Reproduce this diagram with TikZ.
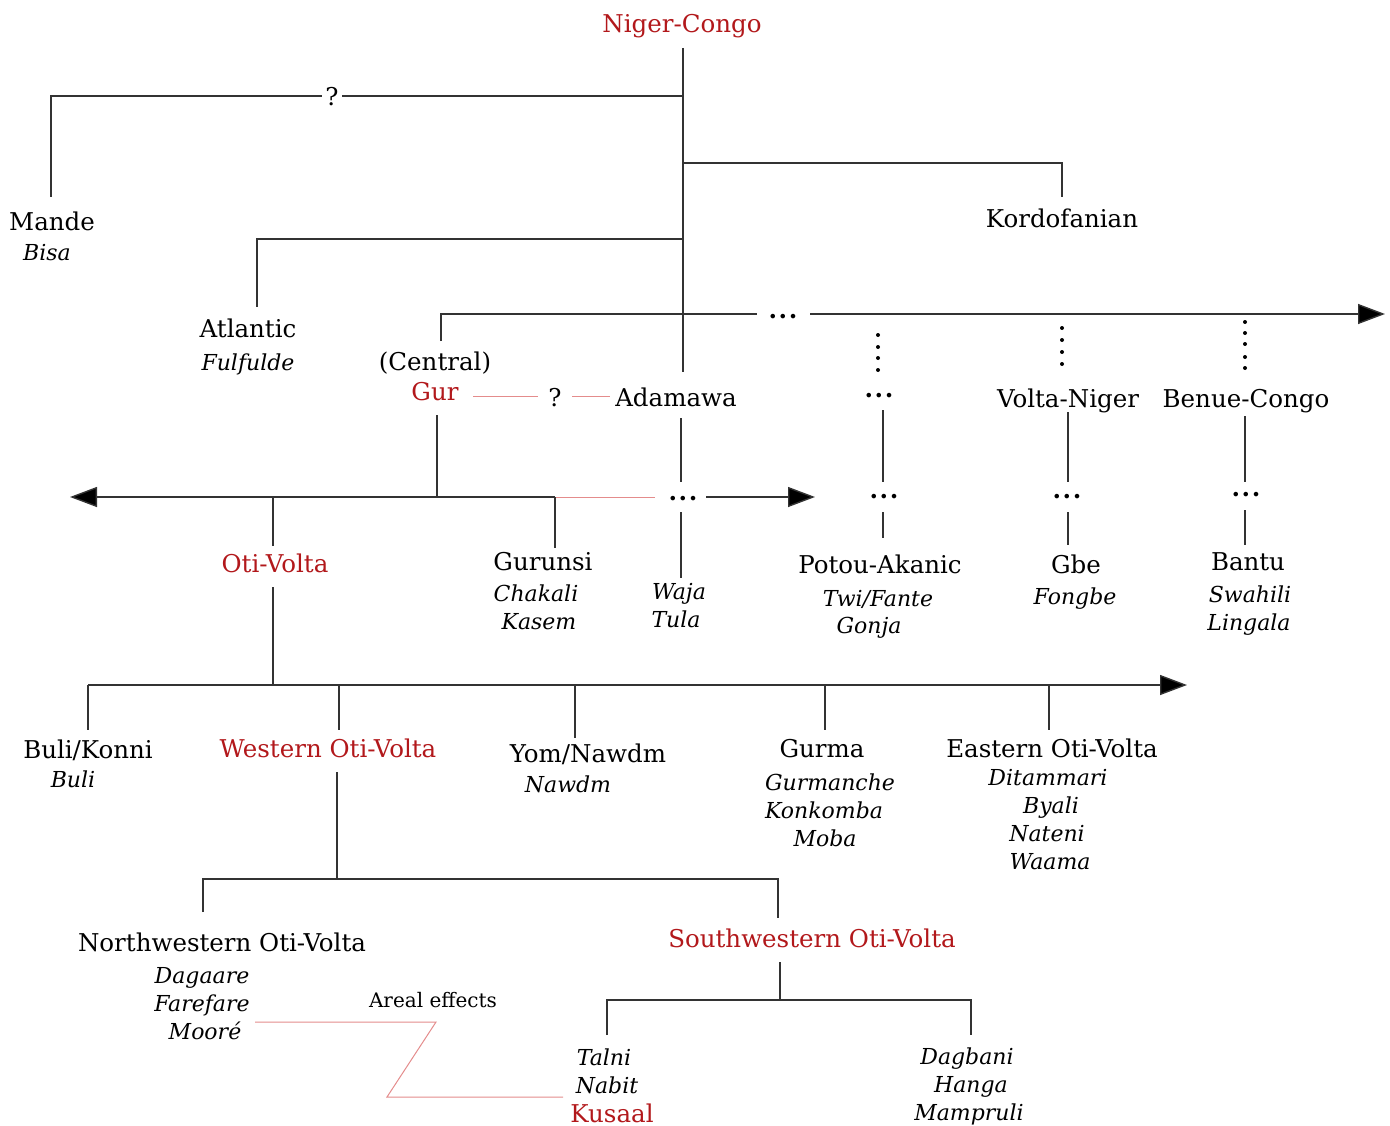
\documentclass[tikz,border=0pt]{standalone}
\usepackage{fontspec}
\setmainfont{DejaVu Serif}
\usetikzlibrary{arrows.meta}
\definecolor{gr}{RGB}{178,24,27}
\definecolor{pk}{RGB}{228,140,140}
\newcommand\mydots{{\bfseries .\kern1.7pt.\kern1.7pt.}}
\begin{document}
\begin{tikzpicture}[x=1pt,y=-1pt,
 lab/.style={font=\fontsize{24.5}{28}\selectfont, inner sep=0pt, anchor=base},
 sub/.style={font=\fontsize{22}{26}\selectfont\itshape, inner sep=0pt, anchor=base},
 sml/.style={font=\fontsize{20}{24}\selectfont, inner sep=0pt, anchor=base},
 ln/.style={line width=1.4pt, draw=black!80},
 arr/.style={ln, -{Triangle[length=27pt,width=20pt,fill=black]}},
 pl/.style={line width=1pt, draw=pk},
 vdot/.style={fill=black, draw=none}]
\useasboundingbox (0,0) rectangle (1390,1126);

% ---------- nodes ----------
\node[lab,text=gr] (NC) at (682,33) {Niger-Congo};
\node[lab] (q1) at (332,106) {?};
\node[lab] (Mande) at (52,231) {Mande};
\node[sub] (Bisa) at (47,261) {Bisa};
\node[lab] (Kord) at (1062,228) {Kordofanian};
\node[lab] (Atl) at (248,337) {Atlantic};
\node[sub] (Fulf) at (248,370) {Fulfulde};
\node[lab] (dd1) at (783,318) {\mydots};
\node[lab] (Cent) at (435,370) {(Central)};
\node[lab,text=gr] (Gur) at (435,400) {Gur};
\node[lab] (q2) at (555,406) {?};
\node[lab] (Adam) at (676,406) {Adamawa};
\node[lab] (dd2) at (879,397) {\mydots};
\node[lab] (VN) at (1068,407) {Volta-Niger};
\node[lab] (BC) at (1246,407) {Benue-Congo};
\node[lab] (dd3) at (683,500) {\mydots};
\node[lab] (dd4) at (884,498) {\mydots};
\node[lab] (dd5) at (1067,498) {\mydots};
\node[lab] (dd6) at (1246,496) {\mydots};
\node[lab,text=gr] (OV) at (275,572) {Oti-Volta};
\node[lab] (Gurunsi) at (543,570) {Gurunsi};
\node[sub] (Chak) at (536,601) {Chakali};
\node[sub] (Kas) at (539,629) {Kasem};
\node[sub] (Waja) at (679,599) {Waja};
\node[sub] (Tula) at (676,627) {Tula};
\node[lab] (PA) at (880,573) {Potou-Akanic};
\node[sub] (Twi) at (878,606) {Twi/Fante};
\node[sub] (Gonja) at (869,633) {Gonja};
\node[lab] (Gbe) at (1076,573) {Gbe};
\node[sub] (Fong) at (1075,604) {Fongbe};
\node[lab] (Bantu) at (1248,570) {Bantu};
\node[sub] (Swa) at (1250,602) {Swahili};
\node[sub] (Lin) at (1249,630) {Lingala};
\node[lab] (BK) at (88,758) {Buli/Konni};
\node[sub] (Buli) at (73,787) {Buli};
\node[lab,text=gr] (WOV) at (328,757) {Western Oti-Volta};
\node[lab] (YN) at (588,762) {Yom/Nawdm};
\node[sub] (Naw) at (568,792) {Nawdm};
\node[lab] (Gurma) at (822,757) {Gurma};
\node[sub] (Gman) at (830,790) {Gurmanche};
\node[sub] (Konk) at (824,818) {Konkomba};
\node[sub] (Moba) at (825,846) {Moba};
\node[lab] (EOV) at (1052,757) {Eastern Oti-Volta};
\node[sub] (Dit) at (1048,785) {Ditammari};
\node[sub] (Bya) at (1051,813) {Byali};
\node[sub] (Nat) at (1047,841) {Nateni};
\node[sub] (Waa) at (1050,869) {Waama};
\node[lab] (NWOV) at (222,951) {Northwestern Oti-Volta};
\node[sub] (Dag) at (202,983) {Dagaare};
\node[sub] (Far) at (202,1011) {Farefare};
\node[sub] (Moo) at (205,1039) {Mooré};
\node[lab,text=gr] (SWOV) at (812,947) {Southwestern Oti-Volta};
\node[sml] (Areal) at (433,1007) {Areal effects};
\node[sub] (Tal) at (604,1065) {Talni};
\node[sub] (Nab) at (607,1093) {Nabit};
\node[lab,text=gr] (Kus) at (612,1122) {Kusaal};
\node[sub] (Dgb) at (967,1064) {Dagbani};
\node[sub] (Han) at (971,1092) {Hanga};
\node[sub] (Mam) at (969,1120) {Mampruli};

% ---------- junction coordinates ----------
\coordinate (t0) at (683,48);   \coordinate (t1) at (683,372);
\coordinate (m0) at (51,197);   \coordinate (m1) at (51,96);
\coordinate (qa) at (322,96);   \coordinate (qb) at (342,96);  \coordinate (m2) at (683,96);
\coordinate (k0) at (683,163);  \coordinate (k2) at (1062,197);
\coordinate (a0) at (683,239);  \coordinate (a2) at (257,307);
\coordinate (g0) at (441,341);  \coordinate (h1) at (757,314);
\coordinate (h2) at (810,314);  \coordinate (e1) at (1385,314);
\coordinate (p1) at (473,396);  \coordinate (p2) at (538,396);
\coordinate (p3) at (572,396);  \coordinate (p4) at (610,396);
\coordinate (gu0) at (437,415); \coordinate (gu1) at (437,497);
\coordinate (l0) at (555,497);  \coordinate (lw) at (70,497);
\coordinate (l1) at (655,497);  \coordinate (l2) at (706,497); \coordinate (le) at (815,497);
\coordinate (gs) at (555,548);
\coordinate (o0) at (273,497);  \coordinate (o1) at (273,546);
\coordinate (o2) at (273,587);  \coordinate (o3) at (273,685);
\coordinate (b0) at (88,685);   \coordinate (be) at (1187,685);

% ---------- connectors ----------
\draw[ln] (t0) -- (t1);
\draw[ln] (m0) |- (qa);
\draw[ln] (qb) -- (m2);
\draw[ln] (k0) -| (k2);
\draw[ln] (a0) -| (a2);
\draw[ln] (g0) |- (h1);
\draw[arr] (h2) -- (e1);
\draw[pl] (p1) -- (p2);
\draw[pl] (p3) -- (p4);
% dotted verticals
\foreach \yy in {335,347,358,370} \fill[vdot] (878,\yy) circle (2pt);
\foreach \yy in {328,340,352,364} \fill[vdot] (1062,\yy) circle (2pt);
\foreach \yy in {322,333,344,357,368} \fill[vdot] (1245,\yy) circle (2pt);
% branches under the dots
\draw[ln] (883,410) -- (883,482);  \draw[ln] (883,512) -- (883,538);
\draw[ln] (1068,412) -- (1068,482); \draw[ln] (1068,512) -- (1068,545);
\draw[ln] (1245,416) -- (1245,482); \draw[ln] (1245,510) -- (1245,545);
\draw[ln] (681,418) -- (681,482);  \draw[ln] (681,512) -- (681,578);
% Gur
\draw[ln] (gu0) -- (gu1);
\draw[arr] (l0) -- (lw);
\draw[pl] (l0) -- (l1);
\draw[arr] (l2) -- (le);
\draw[ln] (l0) -- (gs);
\draw[ln] (o0) -- (o1);
\draw[ln] (o2) -- (o3);
% Oti-Volta
\draw[arr] (b0) -- (be);
\draw[ln] (b0) -- (88,730);
\draw[ln] (339,685) -- (339,730);
\draw[ln] (575,685) -- (575,738);
\draw[ln] (825,685) -- (825,730);
\draw[ln] (1049,685) -- (1049,730);
% Western Oti-Volta
\draw[ln] (337,772) -- (337,879);
\draw[ln] (203,912) |- (778,879) -- (778,918);
% Southwestern
\draw[ln] (780,962) -- (780,1000);
\draw[ln] (607,1035) |- (971,1000) -- (971,1035);
% areal effects
\draw[pl] (255,1022) -- (436,1022) -- (387,1097) -- (563,1097);
\end{tikzpicture}
\end{document}
